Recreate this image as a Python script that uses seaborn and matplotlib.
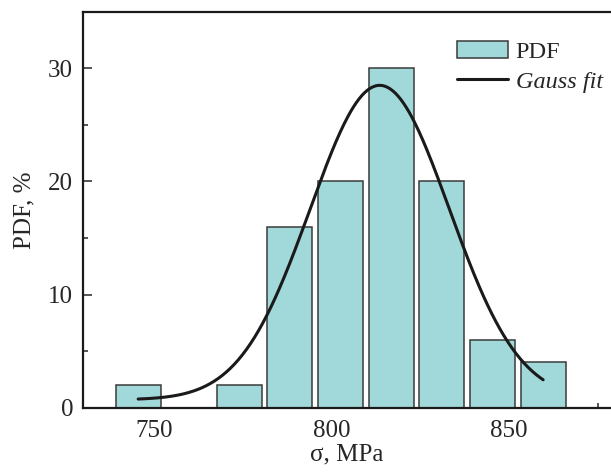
import numpy as np
import pandas as pd
import matplotlib
matplotlib.use("Agg")
import matplotlib.pyplot as plt
from matplotlib.patches import Patch
from matplotlib.lines import Line2D
from matplotlib.ticker import MultipleLocator
import seaborn as sns

# Histogram (bin centre, MPa -> PDF, %)
sigma_bins = [745.6, 759.9, 774.0, 788.3, 802.6, 817.0, 831.1, 845.4, 859.6]
pdf_values = [2, 0, 2, 16, 20, 30, 20, 6, 4]

# Gauss fit parameters (y0 + A * exp(-(x-xc)^2 / (2 s^2)))
fit_y0 = 0.7
fit_amp = 27.8
fit_xc = 813.6
fit_sd = 19.6

df = pd.DataFrame({"sigma": sigma_bins, "pdf": pdf_values})

sns.set_style("ticks")
plt.rcParams["font.family"] = ["Liberation Serif", "DejaVu Serif"]

fig = plt.figure(figsize=(6.11, 4.73), dpi=100)
ax = fig.add_axes([0.1354, 0.138, 0.8646, 0.837])

bar_color = "#a1d9da"
sns.barplot(data=df, x="sigma", y="pdf", native_scale=True, width=0.9,
            color=bar_color, edgecolor="#3a3a3a", linewidth=1.1,
            saturation=1, ax=ax, errorbar=None)

xs = np.linspace(sigma_bins[0], sigma_bins[-1], 300)
ys = fit_y0 + fit_amp * np.exp(-(xs - fit_xc) ** 2 / (2 * fit_sd ** 2))
sns.lineplot(x=xs, y=ys, color="#1a1a1a", linewidth=2.2, ax=ax)

ax.set_xlim(730, 878.7)
ax.set_ylim(0, 35)
ax.xaxis.set_major_locator(MultipleLocator(50))
ax.xaxis.set_minor_locator(MultipleLocator(25))
ax.yaxis.set_major_locator(MultipleLocator(10))
ax.yaxis.set_minor_locator(MultipleLocator(5))
ax.tick_params(which="major", direction="in", length=6.5, width=1.1,
               labelsize=18, pad=7, top=False, right=False)
ax.tick_params(which="minor", direction="in", length=3.3, width=1.1,
               top=False, right=False)
ax.tick_params(axis="x", which="major", pad=9)

for side in ["left", "bottom", "top"]:
    ax.spines[side].set_linewidth(1.6)
    ax.spines[side].set_color("#1a1a1a")
ax.spines["right"].set_visible(False)

ax.set_xlabel("σ, MPa", fontsize=18, labelpad=1)
ax.set_ylabel("PDF, %", fontsize=18, labelpad=9)

handles = [Patch(facecolor=bar_color, edgecolor="#3a3a3a", linewidth=1.1),
           Line2D([0], [0], color="#1a1a1a", linewidth=2.2)]
leg = ax.legend(handles, ["PDF", "Gauss fit"], loc="upper right",
                bbox_to_anchor=(1.012, 0.962), frameon=False, fontsize=17.5,
                handlelength=2.1, handleheight=0.7, handletextpad=0.3,
                labelspacing=0.3, borderaxespad=0.2)
leg.get_texts()[1].set_style("italic")

fig.savefig("out.png", dpi=100)
